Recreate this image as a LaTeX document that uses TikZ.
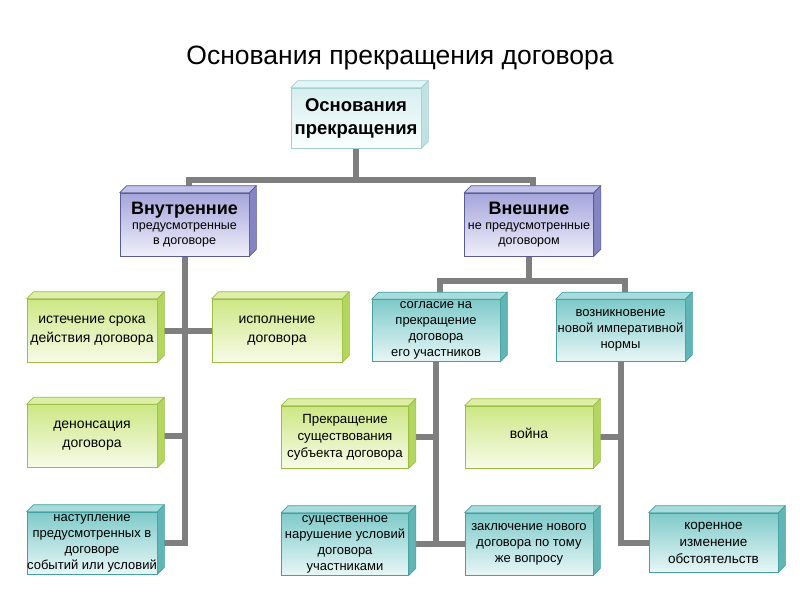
\documentclass[tikz,border=0pt]{standalone}
\usepackage{fontspec}
\setmainfont{Liberation Sans}
\usetikzlibrary{calc}
\pgfdeclarelayer{back}\pgfdeclarelayer{bg}\pgfsetlayers{back,bg,main}
\definecolor{linegray}{HTML}{7F7F7F}
\definecolor{gtop}{HTML}{CDE785}\definecolor{gbot}{HTML}{F7FBE8}\definecolor{gside}{HTML}{B3D65E}\definecolor{gface}{HTML}{DDEFA6}\definecolor{gborder}{HTML}{9DBE45}
\definecolor{ttop}{HTML}{7FCACA}\definecolor{tbot}{HTML}{E8F6F6}\definecolor{tside}{HTML}{62B5B5}\definecolor{tface}{HTML}{A8DCDC}\definecolor{tborder}{HTML}{45A0A0}
\definecolor{ptop}{HTML}{A5A5DC}\definecolor{pbot}{HTML}{EFEFFA}\definecolor{pside}{HTML}{8585C4}\definecolor{pface}{HTML}{C2C2E8}\definecolor{pborder}{HTML}{5A5A96}
\definecolor{rtop}{HTML}{D6EFEF}\definecolor{rbot}{HTML}{FBFEFE}\definecolor{rside}{HTML}{C0E2E2}\definecolor{rface}{HTML}{E4F5F5}\definecolor{rborder}{HTML}{A3CFCF}
\newcommand\boxfaces[4]{%
  \filldraw[fill=#2,draw=#4,line width=0.7pt,line join=round] (#1.north west) -- ++(7,-7) -- ($(#1.north east)+(7,-7)$) -- (#1.north east) -- cycle;
  \filldraw[fill=#3,draw=#4,line width=0.7pt,line join=round] (#1.north east) -- ++(7,-7) -- ($(#1.south east)+(7,-7)$) -- (#1.south east) -- cycle;
}
\tikzset{
  box/.style={draw, line width=0.7pt, align=center, inner sep=0pt, text=black},
  gbox/.style={box, draw=gborder, top color=gtop, bottom color=gbot, minimum width=130pt, minimum height=63pt, font=\fontsize{14}{19}\selectfont},
  tbox/.style={box, draw=tborder, top color=ttop, bottom color=tbot, minimum width=129pt, minimum height=62pt, font=\fontsize{13}{16}\selectfont},
  pbox/.style={box, draw=pborder, top color=ptop, bottom color=pbot, minimum width=129pt, minimum height=63pt, font=\fontsize{12.5}{15}\selectfont},
  rbox/.style={box, draw=rborder, top color=rtop, bottom color=rbot, minimum width=130pt, minimum height=60pt, font=\fontsize{18.5}{23}\selectfont\bfseries},
  conn/.style={draw=linegray, line width=6pt, line join=miter}
}
\begin{document}
\begin{tikzpicture}[x=1pt,y=-1pt]
\begin{pgfonlayer}{back}
\fill[white] (0,0) rectangle (800,600);
\end{pgfonlayer}
\useasboundingbox (0,0) rectangle (800,600);
\node[font=\fontsize{26.5}{30}\selectfont] (title) at (400,58) {Основания прекращения договора};
% root
\node[rbox] (root) at (356,118) {Основания\\прекращения};
\boxfaces{root}{rface}{rside}{rborder}
% level 1
\node[pbox] (vnut) at (184.5,224.5) {{\fontsize{18}{20}\selectfont\bfseries Внутренние}\\ предусмотренные\\в договоре};
\boxfaces{vnut}{pface}{pside}{pborder}
\node[pbox] (vnesh) at (529,224.5) {{\fontsize{18}{20}\selectfont\bfseries Внешние}\\не предусмотренные\\договором};
\boxfaces{vnesh}{pface}{pside}{pborder}
% left column
\node[gbox] (ist) at (92,330.5) {истечение срока\\действия договора};
\boxfaces{ist}{gface}{gside}{gborder}
\node[gbox] (isp) at (277,330.5) {исполнение\\договора};
\boxfaces{isp}{gface}{gside}{gborder}
\node[gbox] (denon) at (92,436) {денонсация\\договора};
\boxfaces{denon}{gface}{gside}{gborder}
\node[tbox, minimum width=130pt] (nast) at (92,543) {наступление\\предусмотренных  в\\договоре\\событий  или условий};
\boxfaces{nast}{tface}{tside}{tborder}
% right side
\node[tbox, minimum width=128pt] (sogl) at (436,330.5) {согласие на\\прекращение\\договора\\его участников};
\boxfaces{sogl}{tface}{tside}{tborder}
\node[tbox] (vozn) at (620.5,330.5) {возникновение\\новой  императивной\\нормы};
\boxfaces{vozn}{tface}{tside}{tborder}
\node[gbox, minimum width=127pt, minimum height=62pt, font=\fontsize{13.3}{17}\selectfont] (prekr) at (345,437) {Прекращение\\существования\\субъекта договора};
\boxfaces{prekr}{gface}{gside}{gborder}
\node[gbox, minimum width=128pt, minimum height=62pt] (voina) at (529,437) {\raisebox{7pt}{война}};
\boxfaces{voina}{gface}{gside}{gborder}
\node[tbox, minimum width=127pt] (sush) at (345,544) {существенное\\нарушение  условий\\договора\\участниками};
\boxfaces{sush}{tface}{tside}{tborder}
\node[tbox, minimum width=128pt] (zakl) at (529,544) {заключение  нового\\договора по тому\\же вопросу};
\boxfaces{zakl}{tface}{tside}{tborder}
\node[tbox, font=\fontsize{13.5}{17}\selectfont, minimum height=59pt] (koren) at (713.5,542.5) {коренное\\изменение\\обстоятельств};
\boxfaces{koren}{tface}{tside}{tborder}
% connectors
\begin{pgfonlayer}{bg}
\coordinate (jtop) at (356,180);
\coordinate (jr) at (529,281);
\draw[conn] (root.south) -- (jtop);
\draw[conn] ($(vnut.north)+(4,-7)$) |- (jtop) -| ($(vnesh.north)+(4,-7)$);
\draw[conn] (vnut.south) |- (nast.east);
\draw[conn] (ist.east) -- (isp.west);
\draw[conn] (denon.east) -- (denon.east -| vnut.south);
\draw[conn] (vnesh.south) -- (jr);
\draw[conn] ($(sogl.north)+(4,-7)$) |- (jr) -| ($(vozn.north)+(4,-7)$);
\draw[conn] (sogl.south) -- (sogl.south |- sush.east);
\draw[conn] (sush.east) -- (zakl.west);
\draw[conn] (prekr.east) -- (prekr.east -| sogl.south);
\draw[conn] (vozn.south) |- (koren.west);
\draw[conn] (voina.east) -- (voina.east -| vozn.south);
\end{pgfonlayer}
\end{tikzpicture}
\end{document}
